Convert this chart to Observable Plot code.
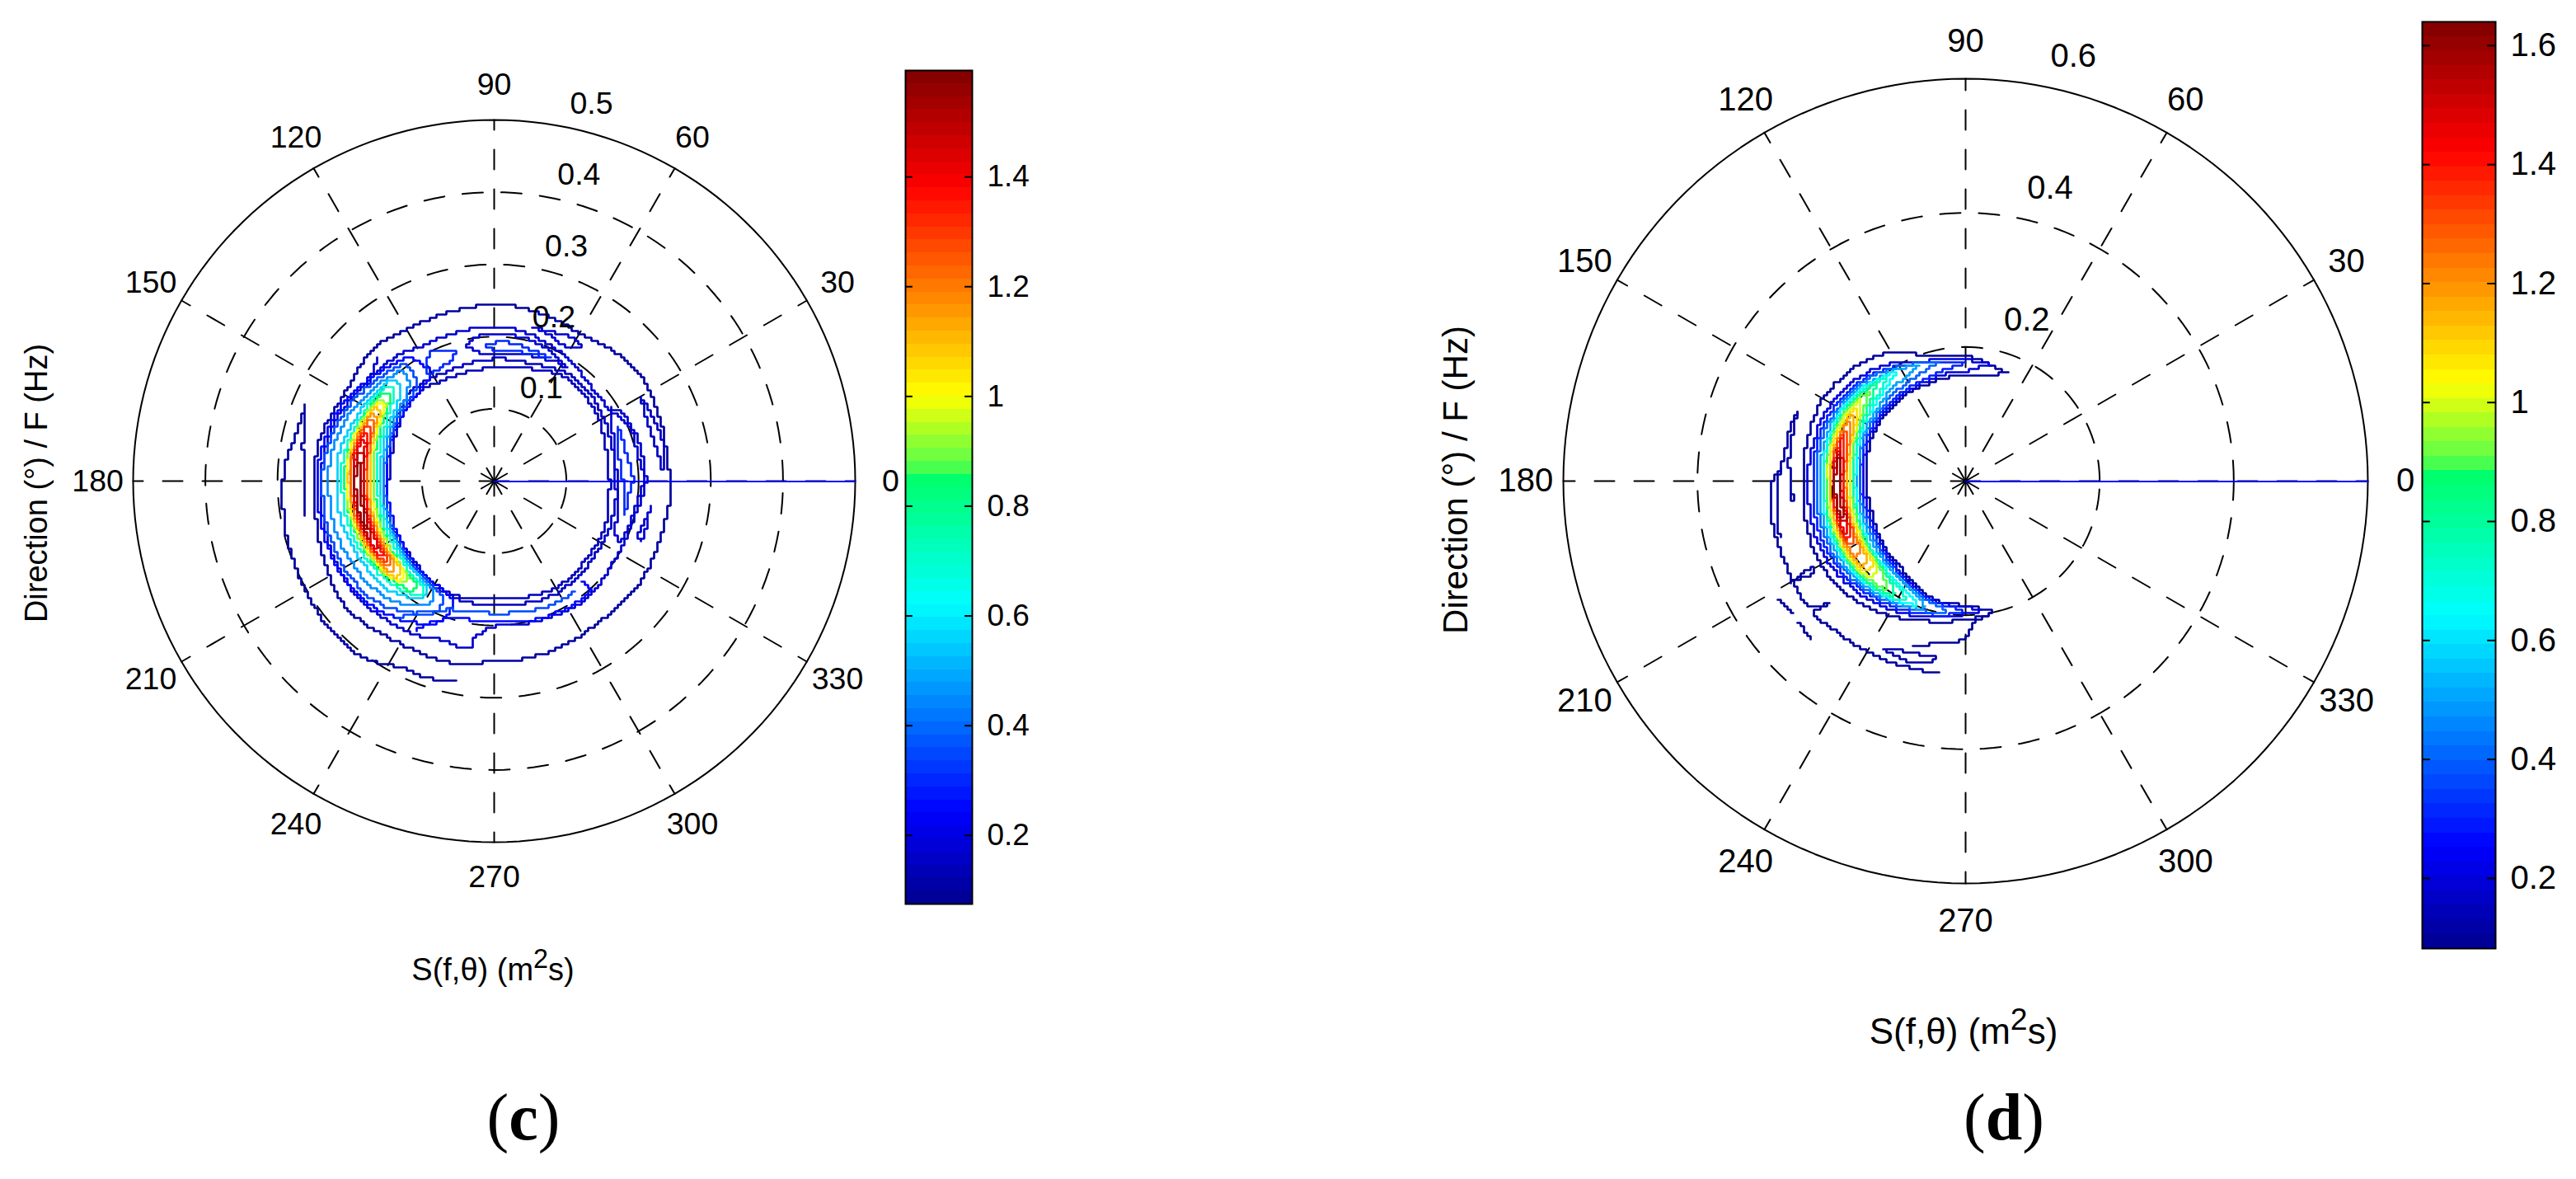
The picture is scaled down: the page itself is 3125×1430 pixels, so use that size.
<!DOCTYPE html>
<html>
<head>
<meta charset="utf-8">
<script src="https://cdn.jsdelivr.net/npm/d3@7"></script>
<script src="https://cdn.jsdelivr.net/npm/@observablehq/plot@0.6"></script>
<style>
  html, body { margin: 0; background: #fff; }
  #page { position: relative; width: 3125px; height: 1430px; overflow: hidden; font-family: "Liberation Sans", Arial, sans-serif; color: #000; }
  #page > div { position: absolute; white-space: nowrap; }
  sup { font-size: 0.85em; line-height: 0; vertical-align: 0.45em; }
  .cap { font-family: "Liberation Serif", serif; font-size: 80px; transform: translateX(-50%); }
  .xl { transform: translateX(-50%); }
  .yl { transform: translate(-50%, -50%) rotate(-90deg); }
</style>
</head>
<body>
<div id="page"></div>
<script>
// shared axis values
const angles = [0, 30, 60, 90, 120, 150, 180, 210, 240, 270, 300, 330]
const jetFrac = [0, 0.11, 0.36, 0.515, 0.525, 0.61, 0.86, 1]
const jetColors = ['#00008f', '#0000ff', '#00ffff', '#00ff66', '#55ff4c', '#ffff00', '#ff0000', '#800000']

// panel (c): frequency rings, colorbar range and ticks
const cRings = [0.1, 0.2, 0.3, 0.4]
const cMaxF = 0.5
const cBar = [0.075, 1.594]
const cTicks = [0.2, 0.4, 0.6, 0.8, 1, 1.2, 1.4]

// panel (d)
const dRings = [0.2, 0.4]
const dMaxF = 0.6
const dBar = [0.082, 1.64]
const dTicks = [0.2, 0.4, 0.6, 0.8, 1, 1.2, 1.4, 1.6]

// contours of (c) as [direction, frequency]
const cLoopLevels = [0.1, 0.17, 0.14, 0.15, 0.17, 0.3, 0.17, 0.17, 0.3, 0.3,
  0.25, 0.35, 0.45, 0.55, 0.7, 0.85, 1, 1.15, 1.3, 1.42, 1.55,
  0.92, 1.08, 1.22, 1.36, 1.49]
const cLoops = [
  [[0,.244],[20,.245],[36,.250],[47,.245],[59,.237],[76,.242],[90,.244],[106,.241],[122,.243],[132,.247],[151,.240],[167,.248],[180,.249],[194,.253],[206,.261],[221,.270],[241,.260],[255,.259],[270,.250],[279,.249],[290,.248],[310,.243],[329,.245],[354,.245]],
  [[0,.211],[18,.207],[33,.188],[45,.188],[62,.201],[82,.212],[99,.213],[115,.211],[130,.220],[145,.225],[160,.235],[180,.240],[200,.245],[215,.248],[230,.245],[245,.238],[250,.233],[262,.233],[263,.218],[270,.201],[284,.202],[307,.207],[324,.200],[344,.200]],
  [[0,.160],[30,.169],[52,.175],[70,.165],[90,.157],[110,.155],[134,.161],[154,.150],[180,.1465],[198,.154],[221,.155],[238,.164],[252,.167],[270,.164],[300,.170],[335,.166]],
  [[0,.171],[30,.176],[52,.181],[70,.172],[90,.169],[110,.165],[134,.168],[154,.155],[180,.150],[198,.157],[221,.160],[238,.168],[252,.171],[270,.172],[300,.178],[335,.173]],
  [[101.5,.191],[98,.201],[82,.203],[70.5,.199],[57,.187],[62.5,.186],[78,.180],[96.7,.180]],
  [[94,.188],[88,.193],[81,.192],[65,.187],[75,.183],[92,.184]],
  [[76.5,.220],[61,.225],[57,.223],[59.5,.213],[71,.218]],
  [[32,.190],[27,.203],[12,.202],[0,.207],[350,.199],[335,.195],[335,.187],[351.5,.173],[0,.167],[17,.173]],
  [[24,.188],[6,.189],[0,.192],[352,.187],[345,.187],[359,.179],[14,.177]],
  [[116.7,.199],[106,.188],[112.5,.174],[122,.176]],
  [[125,.210],[140,.222],[155,.236],[170,.243],[180,.245],[195,.247],[210,.248],[225,.243],[240,.226],[250,.205],[250,.172],[235,.163],[220,.156],[200,.150],[180,.149],[160,.152],[145,.157],[130,.163],[120,.175]],
  [[127,.205],[140,.215],[155,.228],[170,.236],[180,.238],[195,.240],[210,.240],[225,.235],[238,.215],[246,.198],[246,.174],[235,.166],[220,.159],[200,.153],[180,.152],[160,.155],[145,.160],[132,.166],[127,.180]],
  [[130,.200],[142,.210],[155,.220],[170,.228],[180,.229],[195,.230],[210,.228],[225,.222],[236,.208],[242,.193],[242,.176],[232,.168],[218,.162],[200,.156],[180,.155],[160,.158],[147,.163],[136,.170],[130,.185]],
  [[135,.198],[145,.206],[157,.210],[170,.218],[180,.219],[195,.219],[210,.215],[225,.211],[238,.190],[238,.175],[225,.166],[210,.161],[195,.159],[180,.158],[160,.162],[148,.167],[135,.182]],
  [[138,.197],[148,.202],[160,.206],[170,.211],[180,.211],[195,.211],[210,.208],[225,.202],[237,.188],[237,.178],[225,.170],[210,.165],[195,.162],[180,.161],[165,.165],[150,.172],[138,.187]],
  [[141,.195],[150,.199],[160,.203],[170,.206],[180,.206],[195,.206],[210,.203],[222,.198],[233,.190],[233,.180],[222,.174],[210,.170],[195,.167],[180,.166],[165,.170],[150,.176],[141,.186]],
  [[146,.193],[155,.198],[165,.203],[180,.203],[195,.202],[210,.199],[226,.192],[226,.180],[210,.174],[195,.172],[180,.171],[165,.175],[155,.179],[146,.186]],
  [[151,.193],[160,.197],[170,.200],[180,.199],[195,.199],[210,.196],[221,.190],[221,.182],[210,.177],[195,.176],[180,.175],[170,.177],[160,.180],[151,.187]],
  [[157,.192],[165,.196],[180,.196],[195,.196],[207,.193],[216,.189],[216,.183],[207,.181],[195,.180],[180,.179],[165,.181],[157,.186]],
  [[163,.192],[172,.194],[185,.194],[198,.193],[210,.190],[210,.185],[198,.183],[185,.182],[172,.183],[163,.187]],
  [[172,.190],[180,.192],[192,.192],[201,.190],[192,.186],[180,.185],[172,.187]],
  [[144,.194],[153,.199],[163,.204],[180,.205],[195,.204],[210,.201],[224,.195],[229,.180],[215,.173],[195,.169],[180,.168],[165,.172],[155,.177],[144,.186]],
  [[148,.193],[158,.198],[168,.201],[180,.201],[195,.200],[210,.198],[224,.191],[224,.181],[210,.175],[195,.174],[180,.173],[168,.176],[156,.180],[148,.187]],
  [[154,.192],[163,.197],[172,.199],[180,.198],[195,.198],[208,.195],[218,.190],[218,.182],[208,.179],[195,.178],[180,.177],[168,.178],[158,.182],[154,.187]],
  [[160,.192],[168,.195],[180,.195],[195,.195],[206,.192],[213,.189],[213,.184],[205,.182],[195,.181],[180,.180],[168,.182],[160,.186]],
  [[168,.191],[176,.193],[188,.193],[200,.192],[205,.190],[200,.185],[188,.184],[176,.184],[168,.187]],
]
const cOpenLevels = [0.1, 0.15, 0.17, 0.25, 0.35, 0.17]
const cOpen = [
  [[190,.268],[180,.261],[170,.269],[158,.282],[163,.280],[176,.290],[185,.294],[197,.298],[207,.301],[215,.304],[225,.307],[235,.303],[243,.289],[251,.288],[259,.283]],
  [[29.5,.234],[22,.236],[10,.240],[3.5,.235],[11,.230],[24,.229],[29.5,.234]],
  [[351,.219],[338,.220],[339,.213],[348,.218],[351,.219]],
  [[242,.233],[247,.210],[270,.193],[285,.200],[301,.203],[311.4,.201],[311.5,.186]],
  [[235,.234],[238,.217],[249.5,.190],[270,.183],[285,.186],[297,.189],[306,.189]],
  [[133,.235],[143,.219],[139,.225]],
]

// contours of (d)
const dLoopLevels = [0.1, 0.2, 0.3, 0.4, 0.5, 0.65, 0.8, 1, 1.15, 1.3, 1.45, 1.58,
  0.72, 0.9, 1.08, 1.22, 1.38, 1.52]
const dLoops = [
  [[69,.172],[84,.184],[90,.185],[108,.197],[115,.213],[128,.232],[149,.245],[169,.243],[180,.243],[194,.246],[209,.250],[226,.244],[241,.230],[252,.219],[270,.207],[282,.199],[270,.186],[255,.182],[242,.167],[219,.155],[191,.147],[180,.150],[151.5,.155],[123.5,.157],[97,.157],[84,.159]],
  [[78,.178],[90,.181],[110,.190],[125,.210],[140,.225],[155,.232],[170,.234],[180,.235],[195,.238],[210,.238],[225,.232],[240,.222],[255,.210],[270,.198],[278,.194],[270,.188],[255,.184],[240,.170],[220,.158],[195,.151],[180,.153],[155,.158],[130,.159],[105,.162],[90,.164]],
  [[90,.177],[108,.185],[122,.200],[138,.217],[155,.226],[170,.228],[180,.228],[195,.231],[210,.231],[225,.226],[240,.216],[255,.206],[268,.196],[268,.192],[255,.186],[240,.173],[220,.161],[195,.155],[180,.156],[155,.161],[130,.163],[105,.167]],
  [[103,.182],[118,.195],[135,.211],[155,.221],[170,.223],[180,.222],[195,.225],[210,.226],[225,.222],[240,.212],[255,.202],[262,.196],[255,.189],[240,.177],[220,.165],[195,.159],[180,.159],[155,.165],[130,.169],[112,.174]],
  [[112,.188],[125,.198],[140,.210],[155,.216],[170,.218],[180,.218],[195,.220],[210,.221],[225,.218],[240,.209],[252,.199],[245,.183],[232,.174],[215,.167],[195,.162],[180,.162],[155,.168],[130,.176],[118,.180]],
  [[122,.192],[135,.204],[150,.212],[170,.214],[180,.212],[195,.215],[210,.216],[225,.213],[240,.206],[248,.198],[240,.186],[225,.176],[210,.170],[195,.166],[180,.165],[155,.172],[135,.180]],
  [[132,.197],[145,.206],[160,.209],[180,.208],[195,.211],[210,.212],[225,.210],[238,.201],[232,.185],[215,.176],[195,.170],[180,.169],[160,.175],[142,.184]],
  [[142,.197],[155,.205],[170,.206],[180,.204],[195,.207],[210,.208],[225,.203],[225,.186],[210,.178],[195,.175],[180,.174],[165,.178],[150,.185]],
  [[150,.196],[160,.200],[170,.201],[180,.200],[195,.203],[210,.204],[219,.200],[219,.188],[205,.182],[195,.179],[180,.178],[165,.180],[155,.186]],
  [[157,.195],[165,.199],[180,.197],[195,.200],[208,.200],[208,.188],[195,.183],[180,.182],[165,.184]],
  [[163,.194],[172,.196],[185,.196],[198,.197],[204,.196],[198,.187],[185,.185],[172,.186]],
  [[170,.192],[180,.195],[192,.195],[196,.191],[185,.188],[172,.188]],
  [[127,.195],[140,.205],[155,.210],[170,.211],[180,.210],[195,.213],[210,.214],[225,.212],[240,.204],[243,.196],[236,.186],[220,.176],[205,.171],[190,.168],[180,.167],[158,.173],[138,.182]],
  [[137,.197],[150,.206],[165,.208],[180,.206],[195,.209],[210,.210],[225,.207],[234,.200],[229,.186],[213,.177],[195,.172],[180,.171],[162,.176],[146,.185]],
  [[146,.196],[158,.203],[170,.204],[180,.202],[195,.205],[210,.206],[222,.201],[222,.187],[208,.180],[195,.177],[180,.176],[165,.179],[152,.186]],
  [[153,.196],[162,.200],[172,.200],[180,.198],[195,.201],[208,.202],[214,.199],[214,.188],[205,.183],[195,.181],[180,.180],[165,.182],[157,.186]],
  [[160,.195],[170,.197],[182,.197],[195,.199],[206,.198],[203,.188],[193,.184],[180,.183],[168,.185]],
  [[166,.193],[176,.195],[188,.196],[198,.195],[198,.189],[186,.186],[172,.187]],
]
const dOpenLevels = [0.1, 0.12, 0.12, 0.1, 0.12, 0.1, 0.1, 0.1]
const dOpen = [
  [[158,.271],[164,.273],[176,.276],[181,.290],[193,.295],[205,.296],[219,.298],[222,.273],[221,.300],[228,.297],[237,.295],[248,.293],[262,.290]],
  [[158,.271],[174,.265],[187,.259],[183,.262]],
  [[176,.277],[186,.284],[197,.290]],
  [[252,.258],[265,.241],[270,.234],[273,.213],[281.7,.199]],
  [[244,.277],[261,.269],[254,.282],[244,.278]],
  [[220,.327],[226,.330]],
  [[212,.331],[217.7,.325],[214,.326],[212,.331]],
  [[210,.301],[209.5,.262],[211,.268],[210,.301]],
]

const rad = d => d * Math.PI / 180
const xy = (a, f) => ({x: f * Math.cos(rad(a)), y: f * Math.sin(rad(a))})

// the contours sit on a coarse polar grid in the original, so draw them as small stairs
function stairs(context) {
  const g = 4
  const snap = v => Math.round(v / g) * g
  let px, py, qx, qy
  const step = (x, y) => {
    let sx = snap(x), sy = snap(y)
    if (sx !== qx || sy !== qy) {
      context.lineTo(sx, qy)
      context.lineTo(sx, sy)
      qx = sx
      qy = sy
    }
    px = x
    py = y
  }
  const walk = (x, y) => {
    let x0 = px, y0 = py
    let n = Math.max(1, Math.ceil(Math.hypot(x - x0, y - y0) / 2))
    for (let i = 1; i <= n; i++) step(x0 + (x - x0) * i / n, y0 + (y - y0) * i / n)
  }
  const recorder = {
    moveTo(x, y) { px = x; py = y; qx = snap(x); qy = snap(y); context.moveTo(qx, qy) },
    lineTo: walk,
    bezierCurveTo(x1, y1, x2, y2, x, y) {
      let x0 = px, y0 = py
      for (let i = 1; i <= 10; i++) {
        let t = i / 10, u = 1 - t
        walk(u*u*u*x0 + 3*u*u*t*x1 + 3*u*t*t*x2 + t*t*t*x, u*u*u*y0 + 3*u*u*t*y1 + 3*u*t*t*y2 + t*t*t*y)
      }
    },
    closePath() {},
  }
  return d3.curveCatmullRom.alpha(0.5)(recorder)
}

function contourRows(loops, loopLevels, open, openLevels) {
  let rows = []
  open.forEach((p, i) => p.forEach(([a, f]) => rows.push({id: 'o' + i, level: openLevels[i], ...xy(a, f)})))
  loops.forEach((p, i) => [...p, p[0]].forEach(([a, f]) => rows.push({id: 'l' + i, level: loopLevels[i], ...xy(a, f)})))
  return d3.sort(rows, d => d.level)
}

function colorOpts(bar) {
  return {
    type: 'linear',
    domain: jetFrac.map(t => bar[0] + t * (bar[1] - bar[0])),
    range: jetColors,
    clamp: true,
  }
}

function polar(o) {
  let half = o.size / 2
  let extent = half / o.pxPerHz
  let circle = f => d3.range(0, 361, 2).map(a => ({f, ...xy(a, f)}))
  let ringRows = o.rings.flatMap(circle)
  let spokeRows = angles.flatMap(a => [{a, x: 0, y: 0}, {a, ...xy(a, o.maxF)}])
  let labelRows = angles.map(a => ({a, ...xy(a, o.labelF)}))
  let tickRows = [...o.rings, o.maxF].map(f => ({f, ...xy(80, f)}))
  return Plot.plot({
    width: o.size,
    height: o.size,
    margin: 0,
    x: {domain: [-extent, extent], axis: null},
    y: {domain: [-extent, extent], axis: null},
    color: colorOpts(o.bar),
    style: {background: 'transparent', fontFamily: '"Liberation Sans", Arial, sans-serif', overflow: 'visible'},
    marks: [
      Plot.line(ringRows, {x: 'x', y: 'y', z: 'f', stroke: '#000', strokeWidth: 2, strokeDasharray: '25,22'}),
      Plot.line(spokeRows, {x: 'x', y: 'y', z: 'a', stroke: '#000', strokeWidth: 2, strokeDasharray: '24,24', strokeDashoffset: 6}),
      Plot.line(circle(o.maxF), {x: 'x', y: 'y', stroke: '#000', strokeWidth: 2}),
      Plot.line(contourRows(o.loops, o.loopLevels, o.open, o.openLevels), {
        x: 'x', y: 'y', z: 'id', stroke: 'level', curve: stairs, strokeWidth: 2.7, strokeLinejoin: 'miter',
      }),
      Plot.line([{x: 0, y: 0}, xy(0, o.maxF)], {x: 'x', y: 'y', stroke: '#0000ff', strokeWidth: 2.2, dy: 0.5}),
      Plot.text(labelRows, {x: 'x', y: 'y', text: d => String(d.a), fontSize: o.font, fill: '#000'}),
      Plot.text(tickRows, {x: 'x', y: 'y', text: d => String(d.f), fontSize: o.font, fill: '#000', dx: o.tickDx, dy: o.tickDy}),
    ],
  })
}

function colorbar(o) {
  let n = 64
  let step = (o.bar[1] - o.bar[0]) / n
  let bands = d3.range(n).map(i => ({lo: o.bar[0] + i * step, hi: o.bar[0] + (i + 1) * step, mid: o.bar[0] + (i + 0.5) * step}))
  return Plot.plot({
    width: o.width + 90,
    height: o.height,
    marginLeft: 0,
    marginRight: 90,
    marginTop: 0,
    marginBottom: 0,
    x: {domain: [0, 1], axis: null},
    y: {domain: o.bar},
    color: colorOpts(o.bar),
    style: {background: 'transparent', fontFamily: '"Liberation Sans", Arial, sans-serif', fontSize: o.font + 'px', overflow: 'visible', color: '#000'},
    marks: [
      Plot.rect(bands, {y1: 'lo', y2: 'hi', fill: 'mid', shapeRendering: 'crispEdges'}),
      Plot.ruleY(o.ticks, {x1: 0, x2: 0.11, stroke: '#000', strokeWidth: 2}),
      Plot.ruleY(o.ticks, {x1: 0.89, x2: 1, stroke: '#000', strokeWidth: 2}),
      Plot.frame({stroke: '#000', strokeWidth: 2}),
      Plot.axisY(o.ticks, {anchor: 'right', tickSize: 0, tickPadding: 18, label: null, tickFormat: d => String(d), fontSize: o.font}),
    ],
  })
}

const page = d3.select('#page')

function place(node, left, top) {
  page.append('div').style('left', left + 'px').style('top', top + 'px').append(() => node)
}
function label(cls, left, top, font, html) {
  page.append('div').attr('class', cls).style('left', left + 'px').style('top', top + 'px')
    .style('font-size', font ? font + 'px' : null).html(html)
}

place(polar({size: 1100, pxPerHz: 876, rings: cRings, maxF: cMaxF, labelF: 0.549, bar: cBar, font: 37.5,
  loops: cLoops, loopLevels: cLoopLevels, open: cOpen, openLevels: cOpenLevels, tickDx: 42, tickDy: -26}), 49, 33)
place(polar({size: 1160, pxPerHz: 813.3, rings: dRings, maxF: dMaxF, labelF: 0.656, bar: dBar, font: 40,
  loops: dLoops, loopLevels: dLoopLevels, open: dOpen, openLevels: dOpenLevels, tickDx: 46, tickDy: -35}), 1804, 3)

place(colorbar({width: 81, height: 1011, bar: cBar, ticks: cTicks, font: 37}), 1098, 85)
place(colorbar({width: 89, height: 1124, bar: dBar, ticks: dTicks, font: 40}), 2938, 26)

label('xl', 598, 1155, 38, 'S(f,θ) (m<sup>2</sup>s)')
label('xl', 2382, 1226, 44, 'S(f,θ) (m<sup>2</sup>s)')
label('yl', 44, 586, 38, 'Direction (°) / F (Hz)')
label('yl', 1766, 582, 42, 'Direction (°) / F (Hz)')
label('cap', 635, 1310, 0, '(<b>c</b>)')
label('cap', 2431, 1310, 0, '(<b>d</b>)')
</script>
</body>
</html>
